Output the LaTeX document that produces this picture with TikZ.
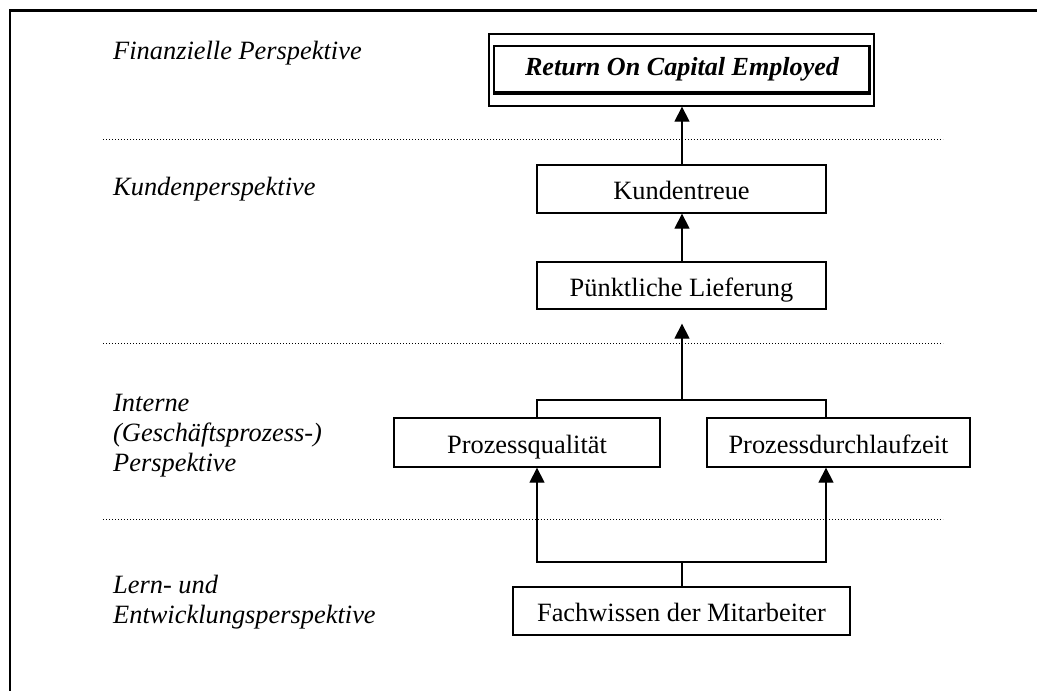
\documentclass[tikz,border=0pt]{standalone}
\usepackage{fontspec}
\setmainfont{Liberation Serif}
\usetikzlibrary{arrows.meta}
\begin{document}
\begin{tikzpicture}[x=1pt,y=-1pt,
  box/.style={draw, line width=1.3pt, inner sep=0pt,
    font=\fontsize{26.4}{30}\selectfont, text height=21pt, text depth=0pt},
  lab/.style={anchor=base west, inner sep=0pt,
    font=\itshape\fontsize{26.4}{30}\selectfont},
  conn/.style={line width=1.3pt},
  arr/.style={line width=1.3pt, -{Triangle[width=15pt,length=15pt]}},
  sep/.style={line width=1pt, dash pattern=on 1pt off 2pt},
  frame/.style={line width=2.7pt}]
\useasboundingbox (0,0) rectangle (1037,691);
\clip (0,0) rectangle (1037,691);
% outer frame (right and bottom edges lie outside the picture)
\draw[frame] (10,720) -- (10,10.7) -- (1060,10.7);
% layer separators
\draw[sep] (103,139) -- (943,139);
\draw[sep] (103,343) -- (943,343);
\draw[sep] (103,519) -- (943,519);
% layer labels
\node[lab] (lf) at (113,59) {Finanzielle Perspektive};
\node[lab] (lk) at (113,195) {Kundenperspektive};
\node[lab] (li) at (113,411) {\vtop{\hbox{Interne}\hbox{(Geschäftsprozess-)}\hbox{Perspektive}}};
\node[lab] (ll) at (113,593) {\vtop{\hbox{Lern- und}\hbox{Entwicklungsperspektive}}};
% boxes
\node[draw, line width=1.3pt, minimum width=385pt, minimum height=72pt, inner sep=0pt] (roceout) at (681.5,70) {};
\node[draw, line width=1.3pt, minimum width=376pt, minimum height=47.5pt, inner sep=0pt,
      font=\bfseries\itshape\fontsize{26.1}{30}\selectfont] (roce) at (682,69.75) {Return On Capital Employed};
\draw[line width=3.3pt] ([xshift=-1pt]roce.north east) -- ([xshift=-1pt,yshift=1.2pt]roce.south east) -- ([yshift=1.2pt]roce.south west);
\node[box, minimum width=289pt, minimum height=48pt] (kunden) at (681.5,189) {Kundentreue};
\node[box, minimum width=289pt, minimum height=47pt] (puenkt) at (681.5,285.5) {Pünktliche Lieferung};
\node[box, minimum width=266pt, minimum height=49pt] (pq) at (527,442.5) {Prozessqualität};
\node[box, minimum width=263pt, minimum height=49pt] (pd) at (838.5,442.5) {Prozessdurchlaufzeit};
\node[box, minimum width=337pt, minimum height=48pt] (fach) at (681.5,611) {Fachwissen der Mitarbeiter};
% junction points
\coordinate (jt) at (682,400);
\coordinate (tl) at (537,400);
\coordinate (tr) at (826,400);
\coordinate (jb) at (682,562);
\coordinate (bl) at (537,562);
\coordinate (br) at (826,562);
% connectors
\draw[arr] (kunden.north -| jt) -- (roceout.south -| jt);
\draw[arr] (puenkt.north -| jt) -- (kunden.south -| jt);
\draw[conn] (pq.north -| tl) -- (tl) -- (tr) -- (pd.north -| tr);
\draw[arr] (jt) -- ([yshift=-14pt]puenkt.south -| jt);
\draw[conn] (fach.north -| jb) -- (jb);
\draw[arr] (jb) -| (pq.south -| bl);
\draw[arr] (jb) -| (pd.south -| br);
\end{tikzpicture}
\end{document}
